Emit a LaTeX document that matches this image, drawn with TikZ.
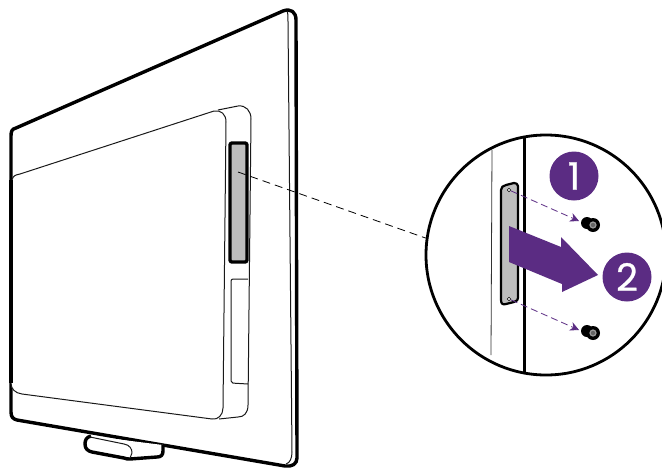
\documentclass[tikz,border=0pt]{standalone}
\usepackage{fontspec}
\usepackage{tikz}
\usetikzlibrary{arrows.meta, positioning, calc, shapes.geometric}
\newfontfamily\badgefont[FakeBold=0.7]{Poppins}
\definecolor{stepviolet}{HTML}{5B2C83}
\definecolor{slotgray}{HTML}{BDBDBD}
\tikzset{
    heavyline/.style={line width=3.4pt, line join=round},
    thinline/.style={line width=1pt, black!90, line join=round},
    badge/.style={circle, fill=stepviolet, minimum size=49pt, inner sep=0pt, text=white, font=\badgefont\fontsize{38}{38}\selectfont},
    hole/.style={circle, draw=black, fill=white, line width=0.6pt, minimum size=3.5pt, inner sep=0pt},
    screwhead/.style={circle, fill=black, minimum size=14pt, inner sep=0pt},
    screwpin/.style={circle, draw=black!40, fill=black!60, line width=1.2pt, minimum size=6pt, inner sep=0pt},
    removal/.style={dash pattern=on 7pt off 4pt, line width=0.8pt, stepviolet, -{Stealth[length=9pt,width=9pt]}}
}
\begin{document}
\begin{tikzpicture}[x=1pt,y=-1pt]
    \useasboundingbox (0,0) rectangle (662,469);

    % Outer frame of the display
    \draw[heavyline] (11,136) .. controls (11,131) and (12,129) .. (16,128) -- (283,11) .. controls (291,8) and (296,12) .. (296,20)
        -- (297,458) .. controls (297,464) and (292,467) .. (285,466) -- (17,420) .. controls (13,419) and (11,417) .. (11,412) -- cycle;
    \draw[thinline] (287,11) .. controls (288,13) and (288,16) .. (288,22) -- (292,452) .. controls (292,458) and (290,463) .. (286,464);

    % Foot under the frame
    \draw[heavyline, fill=white] (91,436) .. controls (86,437) and (85,441) .. (85,444) .. controls (85,449) and (88,451) .. (92,452)
        -- (124,458) .. controls (126,459) and (128,459) .. (130,459) -- (157,457) .. controls (161,457) and (163,455) .. (163,451) -- (163,445);
    \draw[thinline] (90,437) -- (124,444) .. controls (130,445) and (132,449) .. (132,453) -- (130,458);

    % Back cover, two layers
    \draw[thinline] (218,110) -- (238,106) .. controls (246,105) and (251,111) .. (251,119) -- (248,405) .. controls (248,413) and (244,417) .. (238,417) -- (219,419);
    \draw[thinline, fill=white] (12,180) .. controls (13,176) and (15,175) .. (20,174) -- (214,111) .. controls (221,110) and (226,114) .. (226,122)
        -- (223,408) .. controls (223,415) and (218,420) .. (212,419) -- (22,394) .. controls (15,393) and (11,389) .. (11,383);
    \draw[heavyline] (11,180) -- (11,383);

    % Slot and lower flap
    \draw[heavyline, fill=slotgray, rounded corners=2pt] (230,143) rectangle (247,262);
    \draw[thinline, rounded corners=2pt] (248,279) -- (231,279) -- (231,383) -- (248,384);

    % Magnified view
    \node[circle, draw=black, fill=white, line width=2.8pt, minimum size=240pt, inner sep=0pt] (zoomview) at (546,255) {};
    \coordinate (slotmark) at (238,172);
    \draw[line width=0.8pt, dash pattern=on 8pt off 5pt] (slotmark) -- (zoomview.172);
    \draw[line width=0.8pt, black!80] (492,150) -- (491,355);
    \draw[line width=3pt] (524,137) -- (524,373);

    % Plate in the magnified view
    \draw[line width=2.2pt, fill=slotgray, line join=round] (501,190) .. controls (501,187) and (503,186) .. (506,185) -- (514,183) .. controls (516,183) and (518,184) .. (518,186)
        -- (518,298) .. controls (518,300) and (517,301) .. (514,302) -- (506,304) .. controls (503,305) and (501,304) .. (501,300) -- cycle;
    \node[hole] (holetop) at (509,190) {};
    \node[hole] (holebottom) at (509,299) {};

    % Screws
    \node[screwhead] (screwtop) at (593,225) {};
    \node[screwhead] (screwbottom) at (593,333) {};
    \foreach \screwname in {screwtop, screwbottom} {
        \node[screwhead, minimum size=12pt] at ($(\screwname)+(-6,-2)$) {};
        \node[screwpin] at (\screwname) {};
    }

    \coordinate (tiptop) at (579,221);
    \coordinate (tipbottom) at (579,330);
    \draw[removal] (holetop) -- (tiptop);
    \draw[removal] (holebottom) -- (tipbottom);

    % Big arrow and numbered badges
    \fill[stepviolet] (509,226) -- (561,247) -- (561,237) -- (598,275) -- (562,292) -- (562,284) -- (509,262) -- cycle;
    \node[badge] (stepone) at (574,176) {1};
    \node[badge] (steptwo) at (627,277) {2};
\end{tikzpicture}
\end{document}
